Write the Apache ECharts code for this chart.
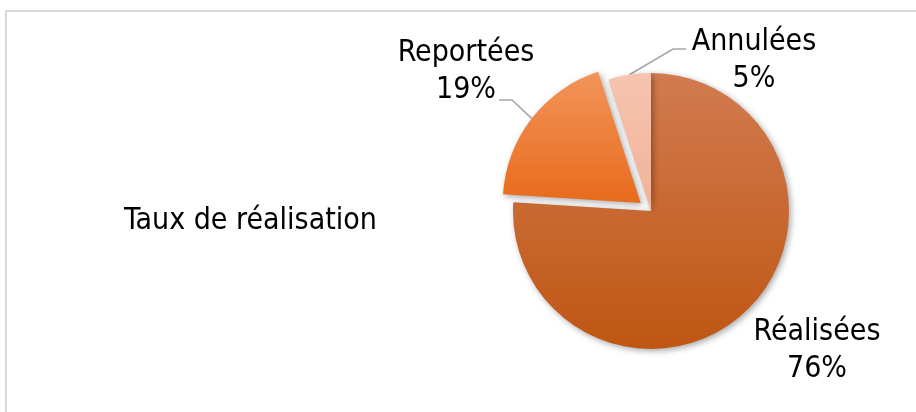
<!DOCTYPE html>
<html>
<head>
<meta charset="utf-8">
<script src="https://cdn.jsdelivr.net/npm/echarts@6/dist/echarts.min.js"></script>
<style>html,body{margin:0;padding:0;background:#fff}#c{width:916px;height:412px}</style>
</head>
<body>
<div id="c"></div>
<script>
var categories = ['Réalisées', 'Reportées', 'Annulées'];
var values = [76, 19, 5];
var seriesName = 'Taux de réalisation';
var explodedIndex = 1;

var FONT = '"DejaVu Sans Condensed", "DejaVu Sans", sans-serif';
var grads = [
  ['#d17b4f', '#bf5613'],
  ['#f3945a', '#e76b1b'],
  ['#f6c4b0', '#f2b198']
];
var labelPos = [[817, 351], [466, 72], [754, 61]];
// label-line: [text-side end, elbow] (null = no line)
var lineEnds = [null, [[499, 100], [512, 100]], [[686, 49], [673, 49]]];
var CX = 651, CY = 211, R = 138, EXPLODE = 13;

var total = values.reduce(function (a, b) { return a + b; }, 0);
function midAngle(i) {
  var before = 0;
  for (var k = 0; k < i; k++) before += values[k];
  return (before + values[i] / 2) / total * 2 * Math.PI;
}
var mA = midAngle(explodedIndex);
var ex = CX + Math.sin(mA) * EXPLODE;
var ey = CY - Math.cos(mA) * EXPLODE;

function makeData(visibleFn) {
  return categories.map(function (c, i) {
    var vis = visibleFn(i);
    return {
      name: c, value: values[i],
      itemStyle: vis ? {
        color: new echarts.graphic.LinearGradient(0, 0, 0, 1, [
          { offset: 0, color: grads[i][0] }, { offset: 1, color: grads[i][1] }])
      } : { color: 'rgba(0,0,0,0)', shadowBlur: 0, shadowColor: 'rgba(0,0,0,0)', shadowOffsetX: 0, shadowOffsetY: 0 },
      label: { show: vis },
      labelLine: { show: vis && !!lineEnds[i] }
    };
  });
}

function makeSeries(center, visibleFn) {
  return {
    type: 'pie',
    name: seriesName,
    center: center,
    radius: R,
    startAngle: 90,
    clockwise: true,
    silent: true,
    itemStyle: {
      shadowBlur: 6, shadowColor: 'rgba(0,0,0,0.35)', shadowOffsetX: 2, shadowOffsetY: 2
    },
    label: {
      formatter: function (p) { return p.name + '\n' + Math.round(p.percent) + '%'; },
      fontFamily: FONT, fontSize: 30, color: '#000', lineHeight: 37, align: 'center'
    },
    labelLine: { lineStyle: { color: '#a6a6a6', width: 1.6 }, length: 15, length2: 15 },
    labelLayout: function (p) {
      var i = p.dataIndex;
      var pos = labelPos[i];
      var out = { x: pos[0], y: pos[1], align: 'center', verticalAlign: 'middle' };
      if (lineEnds[i]) {
        var a = midAngle(i);
        var arc = [center[0] + Math.sin(a) * R, center[1] - Math.cos(a) * R];
        out.labelLinePoints = [lineEnds[i][0], lineEnds[i][1], arc];
      }
      return out;
    },
    emphasis: { disabled: true },
    data: makeData(visibleFn)
  };
}

var chart = echarts.init(document.getElementById('c'));
chart.setOption({
  animation: false,
  backgroundColor: '#fff',
  title: {
    text: seriesName,
    left: 119, top: 201,
    textStyle: { fontFamily: FONT, fontSize: 30, fontWeight: 'normal', color: '#000' }
  },
  graphic: [{
    type: 'rect', shape: { x: 6, y: 11, width: 1000, height: 500 },
    style: { fill: 'none', stroke: '#d9d9d9', lineWidth: 2 }, silent: true
  }],
  series: [
    makeSeries([CX, CY], function (i) { return i !== explodedIndex; }),
    makeSeries([ex, ey], function (i) { return i === explodedIndex; })
  ]
});
</script>
</body>
</html>
